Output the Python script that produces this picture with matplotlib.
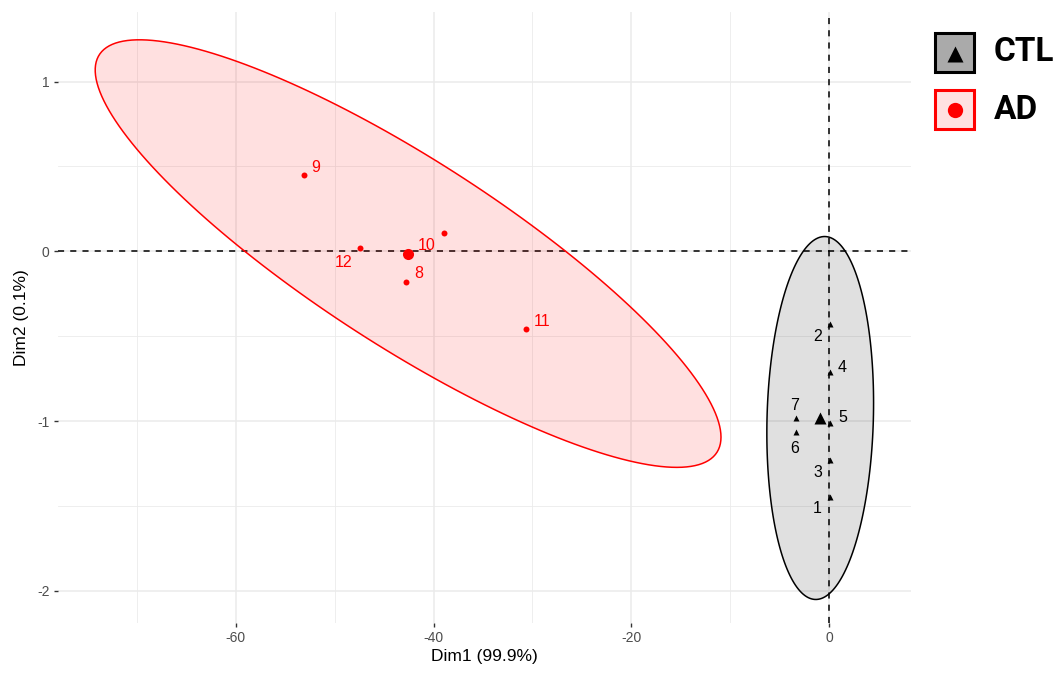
import numpy as np
import matplotlib
matplotlib.use("Agg")
import matplotlib.pyplot as plt
from matplotlib.patches import Polygon, Rectangle

plt.rcParams["font.family"] = ["Liberation Sans", "DejaVu Sans"]

# individuals on the first two PCA dimensions
ctl_ids = ["1", "2", "3", "4", "5", "6", "7"]
ctl_dim1 = [0.1, 0.1, 0.1, 0.1, 0.1, -3.35, -3.35]
ctl_dim2 = [-1.45, -0.43, -1.23, -0.71, -1.01, -1.065, -0.98]

ad_ids = ["8", "9", "10", "11", "12"]
ad_dim1 = [-42.8, -53.1, -38.9, -30.7, -47.4]
ad_dim2 = [-0.18, 0.45, 0.105, -0.46, 0.018]

# label offsets (points) so the numbers sit like in the original repel layout
ctl_offsets = [(-9, -8), (-9, -9), (-9, -9), (9, 3), (9, 4), (-1, -12), (-1, 9)]
ad_offsets = [(9, 6), (8, 5), (-13, -9), (12, 6), (-12, -10)]

groups = ["CTL", "AD"]
colors = {"CTL": "black", "AD": "red"}
x_ticks = [-60, -40, -20, 0]
y_ticks = [-2, -1, 0, 1]


def norm_ellipse(x, y, level=0.95, segments=200):
    # same idea as ggplot2 stat_ellipse(type = "norm")
    pts = np.column_stack([x, y])
    n = len(pts)
    center = pts.mean(axis=0)
    cov = np.cov(pts, rowvar=False)
    d = n - 1
    fq = d / 2 * ((1 - level) ** (-2 / d) - 1)  # qf(level, 2, d)
    radius = np.sqrt(2 * fq)
    t = np.linspace(0, 2 * np.pi, segments)
    circle = np.vstack([np.cos(t), np.sin(t)])
    L = np.linalg.cholesky(cov)
    return (center[:, None] + radius * L @ circle).T, center


fig = plt.figure(figsize=(10.58, 6.76), dpi=100)
ax = fig.add_axes([58 / 1058, 53 / 676, 853 / 1058, 611 / 676])

ax.set_xlim(-78.0, 8.3)
ax.set_ylim(-2.19, 1.41)

# grid like theme_minimal
for v in [-70, -50, -30, -10]:
    ax.axvline(v, color="#EBEBEB", lw=0.6, zorder=0)
for v in [-1.5, -0.5, 0.5]:
    ax.axhline(v, color="#EBEBEB", lw=0.6, zorder=0)
for v in x_ticks:
    ax.axvline(v, color="#EBEBEB", lw=1.1, zorder=0)
for v in y_ticks:
    ax.axhline(v, color="#EBEBEB", lw=1.1, zorder=0)

ax.axhline(0, color="black", lw=1.1, ls=(0, (4, 4)), zorder=1)
ax.axvline(0, color="black", lw=1.1, ls=(0, (4, 4)), zorder=1)

data = {
    "CTL": (ctl_ids, ctl_dim1, ctl_dim2, ctl_offsets, "^"),
    "AD": (ad_ids, ad_dim1, ad_dim2, ad_offsets, "o"),
}

for g in groups:
    ids, xs, ys, offs, mk = data[g]
    c = colors[g]
    ell, center = norm_ellipse(xs, ys)
    ax.add_patch(Polygon(ell, closed=True, facecolor=c, alpha=0.12,
                         edgecolor="none", zorder=2))
    ax.add_patch(Polygon(ell, closed=True, facecolor="none",
                         edgecolor=c, lw=1.1, zorder=2))
    ax.plot(xs, ys, mk, color=c, ms=4.3 if mk == "o" else 4.5,
            mec="none", zorder=3)
    ax.plot(center[0], center[1], mk, color=c, ms=8 if mk == "o" else 9,
            mec="none", zorder=3)
    for lab, xv, yv, off in zip(ids, xs, ys, offs):
        ax.annotate(lab, (xv, yv), xytext=off, textcoords="offset points",
                    ha="center", va="center", color=c, fontsize=11.5,
                    zorder=4)

for s in ax.spines.values():
    s.set_visible(False)
ax.set_xticks(x_ticks)
ax.set_yticks(y_ticks)
ax.set_xticklabels([str(v) for v in x_ticks])
ax.set_yticklabels([str(v) for v in y_ticks])
ax.tick_params(axis="both", colors="#333333", length=3, width=1,
               labelsize=10, labelcolor="#4D4D4D", pad=3)
ax.set_xlabel("Dim1 (99.9%)", fontsize=12.5, labelpad=3)
ax.set_ylabel("Dim2 (0.1%)", fontsize=12.5, labelpad=6)

# legend drawn in pixel space on top
lg = fig.add_axes([0, 0, 1, 1], facecolor="none")
lg.set_xlim(0, 1058)
lg.set_ylim(676, 0)
lg.axis("off")
lg.add_patch(Rectangle((935, 33), 39, 39, facecolor="#AAAAAA",
                       edgecolor="black", lw=2.2))
lg.plot([954.5], [53.5], "^", color="black", ms=12, mec="none")
lg.add_patch(Rectangle((935, 90), 39, 39, facecolor="#FFE1E1",
                       edgecolor="red", lw=2.2))
lg.plot([954.5], [109.5], "o", color="red", ms=11, mec="none")
legend_font = ["Roboto", "DejaVu Sans"]
lg.text(994, 52, "CTL", fontsize=24, fontweight="bold", family=legend_font,
        va="center", ha="left", color="black")
lg.text(994, 110, "AD", fontsize=24, fontweight="bold", family=legend_font,
        va="center", ha="left", color="black")

fig.savefig("out.png", dpi=100)
